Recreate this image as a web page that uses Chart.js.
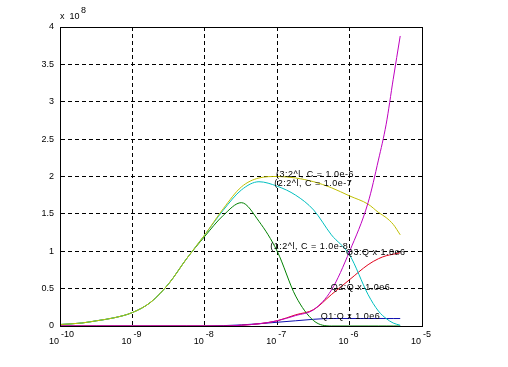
<!DOCTYPE html>
<html>
<head>
<meta charset="utf-8">
<script src="https://cdn.jsdelivr.net/npm/chart.js@4"></script>
<style>
  html, body { margin: 0; padding: 0; background: #fff; }
</style>
</head>
<body>
<canvas id="myChart" width="508" height="367"></canvas>
<script>
// x positions (log axis)
const xValues = [1e-10, 2e-10, 3.2e-10, 5.6e-10, 1e-9, 1.8e-9, 3.2e-9, 5.6e-9, 1e-8, 1.8e-8, 3.2e-8,
                 5.6e-8, 1e-7, 1.8e-7, 3.2e-7, 5.6e-7, 1e-6, 1.8e-6, 2.5e-6, 3.2e-6, 4e-6, 5e-6];

// series, in units of 1e8
const c6 = [0.02, 0.04, 0.07, 0.11, 0.18, 0.32, 0.57, 0.9, 1.22, 1.57, 1.86,
            1.98, 2.0, 1.98, 1.93, 1.85, 1.74, 1.63, 1.52, 1.45, 1.36, 1.22];
const c7 = [0.02, 0.04, 0.07, 0.11, 0.18, 0.32, 0.57, 0.9, 1.22, 1.55, 1.82,
            1.93, 1.87, 1.75, 1.55, 1.22, 0.95, 0.42, 0.2, 0.1, 0.04, 0.01];
const c8 = [0.02, 0.04, 0.07, 0.11, 0.18, 0.32, 0.57, 0.9, 1.2, 1.48, 1.65,
            1.4, 1.0, 0.4, 0.07, 0.0, 0.0, 0.0, 0.0, 0.0, 0.0, 0.0];
const q3 = [0, 0, 0, 0, 0, 0, 0, 0, 0, 0.0, 0.01,
            0.03, 0.07, 0.15, 0.22, 0.42, 0.62, 0.82, 0.9, 0.94, 0.96, 0.98];
const q2 = [0, 0, 0, 0, 0, 0, 0, 0, 0, 0.0, 0.01,
            0.03, 0.07, 0.14, 0.22, 0.48, 1.0, 1.65, 2.22, 2.7, 3.3, 3.88];
const q1 = [0, 0, 0, 0, 0, 0, 0, 0, 0, 0.005, 0.015,
            0.03, 0.05, 0.07, 0.09, 0.1, 0.1, 0.1, 0.1, 0.1, 0.1, 0.1];

const xTicks = [1e-10, 1e-9, 1e-8, 1e-7, 1e-6, 1e-5];
const xTickExp = ["-10", "-9", "-8", "-7", "-6", "-5"];

// curve labels: text, x, y
const noteText = ["(3:2^l, C = 1.0e-6", "(2:2^l, C = 1.0e-7", "(1:2^l, C = 1.0e-8",
                  "Q3:Q x 1.0e6", "Q2:Q x 1.0e6", "Q1:Q x 1.0e6"];
const noteX = [9.6e-8, 9.1e-8, 8.0e-8, 8.9e-7, 5.5e-7, 4.0e-7];
const noteY = [2.02, 1.9, 1.07, 0.98, 0.51, 0.13];

const FONT = "Arial, 'Liberation Sans', sans-serif";

function pts(arr) {
    return arr.map((v, i) => ({ x: xValues[i], y: v }));
}

function ds(data, color) {
    return {
        data: pts(data),
        borderColor: color,
        borderWidth: 1,
        pointRadius: 0,
        fill: false,
        cubicInterpolationMode: "monotone"
    };
}

const extras = {
    id: "extras",
    afterDraw(chart) {
        const ctx = chart.ctx;
        const a = chart.chartArea;
        const xs = chart.scales.x;
        const ys = chart.scales.y;
        ctx.save();
        // box
        ctx.strokeStyle = "#000";
        ctx.lineWidth = 1;
        ctx.setLineDash([]);
        ctx.strokeRect(Math.round(a.left) + 0.5, Math.round(a.top) + 0.5,
                       Math.round(a.right - a.left), Math.round(a.bottom - a.top));
        // x tick labels 10^n
        ctx.fillStyle = "#000";
        ctx.font = "9px " + FONT;
        ctx.textBaseline = "alphabetic";
        xTicks.forEach((v, i) => {
            const px = xs.getPixelForValue(v);
            ctx.textAlign = "right";
            ctx.fillText("10", px - 1, 344);
            ctx.textAlign = "left";
            ctx.fillText(xTickExp[i], px + 1, 337);
        });
        // multiplier
        ctx.textAlign = "left";
        ctx.fillText("x  10", 60, 19);
        ctx.fillText("8", 81, 13);
        // curve labels
        ctx.textBaseline = "middle";
        ctx.letterSpacing = "0.5px";
        noteText.forEach((t, i) => {
            ctx.fillText(t, xs.getPixelForValue(noteX[i]), ys.getPixelForValue(noteY[i]));
        });
        ctx.restore();
    }
};

const ctx = document.getElementById("myChart").getContext("2d");

new Chart(ctx, {
    type: "line",
    data: {
        datasets: [
            ds(q2, "#bf00bf"),
            ds(c6, "#bfbf00"),
            ds(c7, "#00bfbf"),
            ds(c8, "#008000"),
            ds(q3, "#e0001a"),
            ds(q1, "#1010b0")
        ]
    },
    options: {
        responsive: false,
        animation: false,
        layout: { padding: { top: 27, right: 86, left: 0, bottom: 0 } },
        plugins: { legend: { display: false }, tooltip: { enabled: false } },
        scales: {
            x: {
                type: "logarithmic",
                min: 1e-10,
                max: 1e-5,
                afterBuildTicks: (scale) => { scale.ticks = xTicks.map(v => ({ value: v })); },
                afterFit: (scale) => { scale.height = 41; },
                ticks: { display: false },
                grid: { color: "#000", drawTicks: false, lineWidth: 1 },
                border: { display: true, color: "#000", dash: [4, 3] }
            },
            y: {
                min: 0,
                max: 4,
                afterFit: (scale) => { scale.width = 60; },
                ticks: {
                    stepSize: 0.5,
                    padding: 6,
                    color: "#000",
                    font: { size: 9, family: FONT },
                    callback: (v) => String(Math.round(v * 10) / 10)
                },
                grid: { color: "#000", drawTicks: false, lineWidth: 1 },
                border: { display: true, color: "#000", dash: [4, 3] }
            }
        }
    },
    plugins: [extras]
});
</script>
</body>
</html>
